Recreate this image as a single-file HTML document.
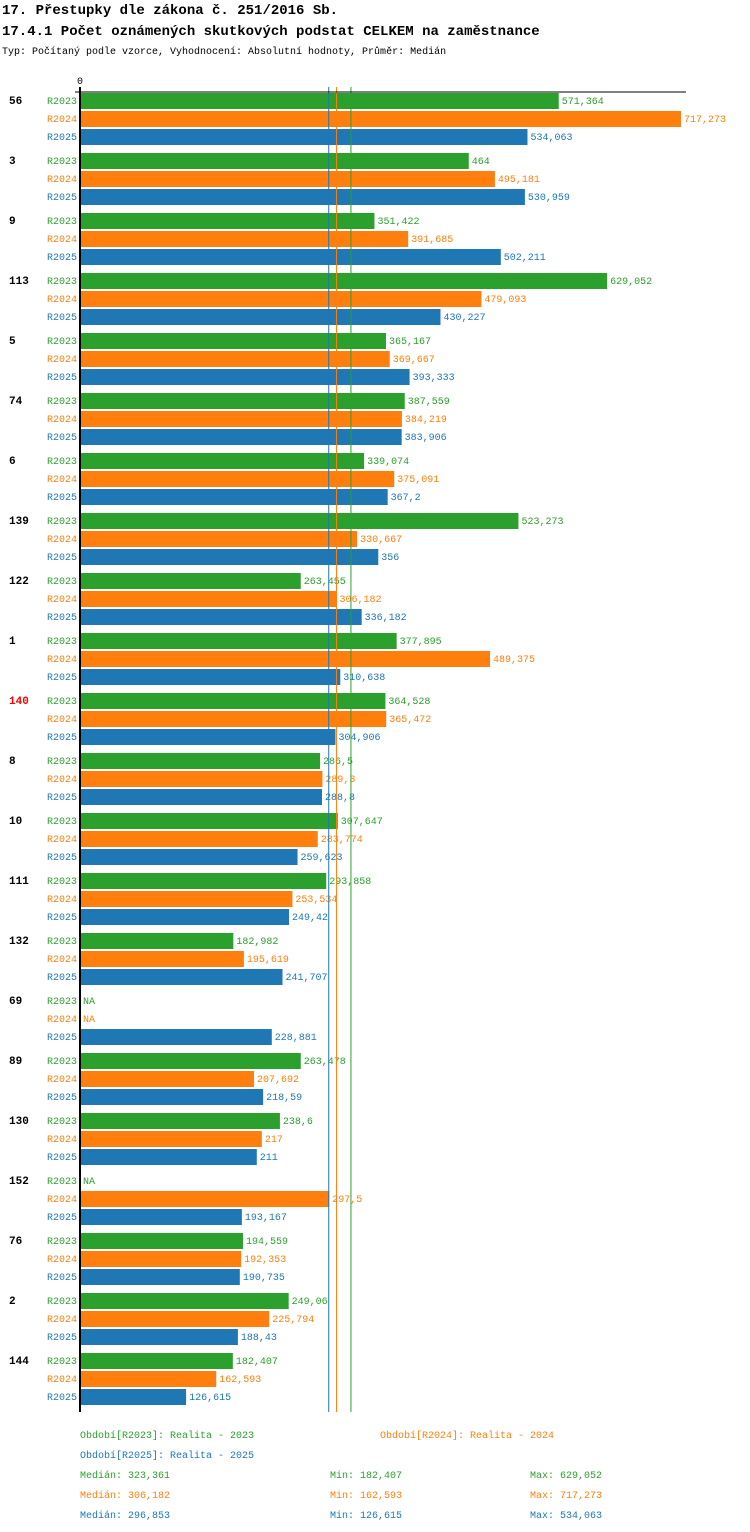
<!DOCTYPE html>
<html><head><meta charset="utf-8">
<style>
body{margin:0;background:#fff;}
svg{display:block;font-family:"Liberation Mono","DejaVu Sans Mono",monospace;}
</style></head>
<body>
<svg id="chart" width="750" height="1532" xmlns="http://www.w3.org/2000/svg">
<text x="2" y="14" font-size="14" font-weight="bold">17. Přestupky dle zákona č. 251/2016 Sb.</text>
<text x="2" y="35" font-size="14" font-weight="bold">17.4.1 Počet oznámených skutkových podstat CELKEM na zaměstnance</text>
<text x="2" y="54" font-size="10">Typ: Počítaný podle vzorce, Vyhodnocení: Absolutní hodnoty, Průměr: Medián</text>
<text x="77" y="84" font-size="10">0</text>
<g id="bars"></g>
<g id="lines"></g>
<g id="legend"></g>
</svg>
<script>
const categories=["56","3","9","113","5","74","6","139","122","1","140","8","10","111","132","69","89","130","152","76","2","144"];
const r2023=[571.364,464,351.422,629.052,365.167,387.559,339.074,523.273,263.455,377.895,364.528,286.5,307.647,293.858,182.982,null,263.478,238.6,null,194.559,249.06,182.407];
const r2024=[717.273,495.181,391.685,479.093,369.667,384.219,375.091,330.667,306.182,489.375,365.472,289.3,283.774,253.534,195.619,null,207.692,217,297.5,192.353,225.794,162.593];
const r2025=[534.063,530.959,502.211,430.227,393.333,383.906,367.2,356,336.182,310.638,304.906,288.8,259.623,249.42,241.707,228.881,218.59,211,193.167,190.735,188.43,126.615];
const seriesNames=["R2023","R2024","R2025"];
const colors=["#2ca02c","#ff7f0e","#1f77b4"];
const medians=[323.361,306.182,296.853];
const mins=[182.407,162.593,126.615];
const maxs=[629.052,717.273,534.063];
const highlight="140";
const NS="http://www.w3.org/2000/svg";
const x0=80, scale=601/717.273;
const xS=v=>x0+v*scale;
const yG=i=>92+i*60;
const fmt=v=>String(v).replace('.',',');
const g=document.getElementById('bars');
const lg0=document.getElementById('lines');
function el(tag,attrs,parent,txt){const e=document.createElementNS(NS,tag);for(const k in attrs)e.setAttribute(k,attrs[k]);if(txt!==undefined)e.textContent=txt;parent.appendChild(e);return e;}
const series=[r2023,r2024,r2025];
const yEnd=yG(categories.length-1)+60;
categories.forEach((c,i)=>{
  const t=el('text',{x:9,y:yG(i)+12,'font-size':11,'font-weight':'bold',fill:c===highlight?'#ff0000':'#000'},g,c);
  
  
  series.forEach((s,j)=>{
    const y=yG(i)+j*18;
    const lt=el('text',{x:47,y:y+12,'font-size':10,fill:colors[j]},g,seriesNames[j]);
    
    
    const v=s[i];
    if(v===null){
      const na=el('text',{x:83,y:y+12,'font-size':10,fill:colors[j]},g,'NA');
      
      
      return;
    }
    const r=el('rect',{x:x0,y:y+1,width:xS(v)-x0,height:16,fill:colors[j]},g);
    
    
    const vt=el('text',{x:xS(v)+3,y:y+12,'font-size':10,fill:colors[j]},g,fmt(v));
    
    
  });
});
medians.forEach((m,j)=>{
  const l=el('line',{x1:xS(m),x2:xS(m),y1:87,y2:yEnd,stroke:colors[j],'stroke-width':1},lg0);
  
  
});
const ax=el('line',{x1:x0,x2:x0,y1:87,y2:yEnd,stroke:'#000','stroke-width':2},lg0);


const ax2=el('line',{x1:75,x2:686,y1:92,y2:92,stroke:'#000','stroke-width':1},lg0);


const lg=document.getElementById('legend');
function lt(x,y,col,txt,name){const t=el('text',{x:x,y:y,'font-size':10,fill:col},lg,txt);}
lt(80,1438,colors[0],'Období[R2023]: Realita - 2023','legend-entry');
lt(380,1438,colors[1],'Období[R2024]: Realita - 2024','legend-entry');
lt(80,1458,colors[2],'Období[R2025]: Realita - 2025','legend-entry');
for(let j=0;j<3;j++){
  const y=1478+j*20;
  lt(80,y,colors[j],'Medián: '+fmt(medians[j]),'median-stat');
  lt(330,y,colors[j],'Min: '+fmt(mins[j]),'min-stat');
  lt(530,y,colors[j],'Max: '+fmt(maxs[j]),'max-stat');
}
</script>
</body></html>
